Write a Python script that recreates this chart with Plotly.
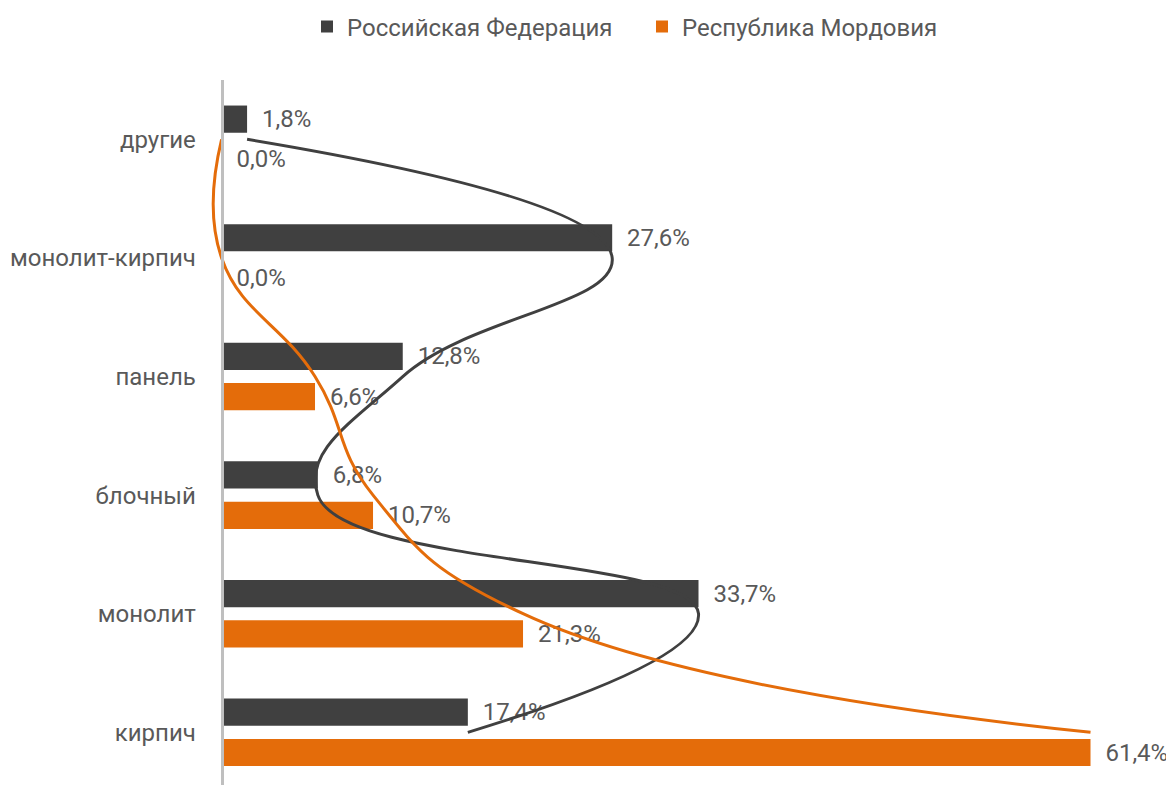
import plotly.graph_objects as go

categories = ["другие", "монолит-кирпич", "панель", "блочный", "монолит", "кирпич"]
rf_values = [1.8, 27.6, 12.8, 6.8, 33.7, 17.4]
rm_values = [0.0, 0.0, 6.6, 10.7, 21.3, 61.4]
series_names = ["Российская Федерация", "Республика Мордовия"]

DARK = "#404040"
ORANGE = "#E46C0A"
TEXT = "#595959"
FONT = "Roboto"
FS = 24

W, H = 1166, 777  # page adds an 8px body margin

fig = go.Figure()
for name, vals, col in [(series_names[0], rf_values, DARK), (series_names[1], rm_values, ORANGE)]:
    fig.add_trace(go.Bar(
        name=name, y=categories, x=vals, orientation="h",
        marker=dict(color=col, line=dict(width=0)),
        texttemplate="\u00a0\u00a0%{x:.1f}%", textposition="outside",
        textfont=dict(family=FONT, size=FS, color=TEXT),
        constraintext="none", cliponaxis=False,
    ))
for vals, col in [(rf_values, DARK), (rm_values, ORANGE)]:
    fig.add_trace(go.Scatter(
        y=categories, x=vals, mode="lines",
        line=dict(color=col, width=3, shape="spline", smoothing=1.3),
        showlegend=False, hoverinfo="skip",
    ))

fig.update_layout(
    width=W, height=H,
    margin=dict(l=157, r=75, t=72, b=0),
    paper_bgcolor="white", plot_bgcolor="white",
    barmode="group", bargap=0.32, bargroupgap=0.325,
    separators=", ",
    font=dict(family=FONT, size=FS, color=TEXT),
    showlegend=True,
    legend=dict(orientation="h", xref="container", yref="container",
                x=299 / W, xanchor="left", y=1 - 19 / H, yanchor="middle",
                font=dict(family=FONT, size=FS, color=TEXT),
                entrywidth=290, traceorder="normal"),
    xaxis=dict(range=[-4, 62], visible=False, showgrid=False, zeroline=False),
    yaxis=dict(type="category", categoryorder="array", categoryarray=categories,
               range=[5.444, -0.5], anchor="free", position=4 / 66,
               showline=True, linecolor="#BFBFBF", linewidth=3,
               showgrid=False, zeroline=False, ticks="",
               ticklabelstandoff=20,
               tickfont=dict(family=FONT, size=FS, color=TEXT)),
)

fig.write_html("out.html")
